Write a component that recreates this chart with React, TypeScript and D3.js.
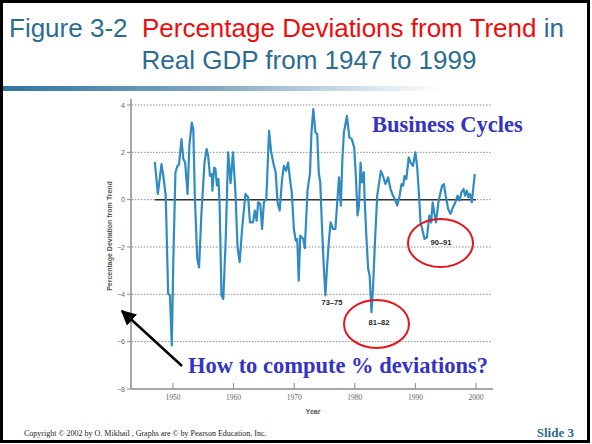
import React from "react";
import * as d3 from "d3";

const years = [
  1947.0, 1947.5, 1948.1, 1948.4, 1948.8, 1949.2, 1949.5, 1949.8, 1950.05, 1950.4, 1950.7, 1951.0, 1951.4, 1951.7,
  1952.0, 1952.4, 1952.7, 1953.1, 1953.35, 1953.6, 1954.0, 1954.3, 1954.7, 1955.2, 1955.55, 1955.8, 1956.1, 1956.4,
  1956.5, 1956.8, 1957.0, 1957.25, 1957.5, 1957.7, 1958.0, 1958.3, 1958.7, 1959.1, 1959.5, 1959.9, 1960.3, 1960.65,
  1961.0, 1961.4, 1961.95, 1962.4, 1962.7, 1963.2, 1963.5, 1963.8, 1964.05, 1964.4, 1964.7, 1965.0, 1965.4, 1965.85,
  1966.2, 1966.6, 1966.95, 1967.25, 1967.6, 1968.0, 1968.3, 1968.65, 1969.0, 1969.3, 1969.6, 1969.95, 1970.25, 1970.5,
  1970.75, 1971.0, 1971.5, 1971.75, 1972.2, 1972.6, 1972.85, 1973.15, 1973.5, 1973.8, 1974.05, 1974.3, 1974.6, 1974.9,
  1975.15, 1975.4, 1975.75, 1976.0, 1976.4, 1976.8, 1977.1, 1977.4, 1977.7, 1977.95, 1978.2, 1978.7, 1979.1, 1979.5,
  1979.9, 1980.2, 1980.45, 1980.7, 1980.95, 1981.2, 1981.5, 1981.6, 1981.9, 1982.2, 1982.45, 1982.75, 1983.0, 1983.3,
  1983.7, 1984.3, 1984.65, 1985.05, 1985.5, 1985.9, 1986.3, 1986.6, 1987.0, 1987.4, 1987.7, 1988.0, 1988.2, 1988.5,
  1988.9, 1989.2, 1989.6, 1990.0, 1990.3, 1990.6, 1990.85, 1991.25, 1991.5, 1991.9, 1992.3, 1992.6, 1992.85, 1993.1,
  1993.4, 1993.8, 1994.15, 1994.4, 1994.7, 1995.0, 1995.4, 1995.8, 1996.2, 1996.6, 1996.95, 1997.3, 1997.6, 1997.95,
  1998.2, 1998.5, 1998.75, 1999.0, 1999.3, 1999.8,
];

const deviations = [
  1.6, 0.24, 1.5, 1.0, 0.17, -3.97, -4.05, -6.16, -2.6, 1.15, 1.4, 1.5, 2.56, 1.72,
  1.57, 0.24, 2.28, 3.26, 2.98, 0.17, -2.5, -2.86, -0.53, 1.57, 2.14, 1.86, 1.0, 1.08,
  0.38, 1.36, 1.3, 0.6, 0.87, -0.25, -4.05, -4.2, -1.66, 2.0, 0.7, 2.0, 0.31, -2.0,
  -2.64, -1.24, 0.24, 0.1, -0.96, -0.96, -0.46, -0.89, -0.11, -0.18, -1.24, -0.11, 0.03, 2.91,
  2.0, 1.5, 1.15, -0.11, -0.46, 0.87, 1.43, 1.22, 1.57, 0.87, 0.31, -1.24, -1.73, -1.66,
  -3.42, -1.52, -1.66, -2.05, 0.4, 1.1, 2.84, 3.83, 2.84, 2.77, 1.15, 0.73, -1.24, -2.92,
  -4.05, -2.92, -1.66, -0.96, -1.24, -1.24, -0.11, 0.94, -0.25, 1.72, 2.84, 3.54, 2.63, 2.56,
  2.2, 0.87, -0.67, -0.25, 1.57, 0.73, 1.15, 0.17, -1.52, -2.92, -3.2, -4.75, -3.77, -1.94,
  0.17, 1.22, 1.0, 0.66, 0.94, 0.45, 0.17, 0.03, -0.25, 0.17, 0.66, 0.59, 1.0, 0.87,
  1.79, 1.57, 1.43, 2.0, 1.36, 0.17, -0.96, -1.38, -1.66, -1.59, -0.67, -0.96, -0.11, -0.53,
  -0.96, -0.11, 0.31, 0.59, 0.66, 0.17, -0.39, -0.6, -0.32, -0.11, 0.17, -0.04, 0.31, 0.45,
  0.17, 0.38, 0.1, 0.24, -0.11, 1.08,
];

const yTicks = [4, 2, 0, -2, -4, -6, -8];
const xTicks = [1950, 1960, 1970, 1980, 1990, 2000];

const recessionLabels = ["73–75", "81–82", "90–91"];
const labelYears = [1976.24, 1984.0, 1994.23];
const labelValues = [-4.32, -5.19, -1.79];
const circled = [false, true, true];
const circleYears = [0, 1983.58, 1994.14];
const circleValues = [0, -5.25, -1.83];

export default function App() {
  const x = d3.scaleLinear().domain([1950, 2000]).range([173, 476]);
  const y = d3.scaleLinear().domain([-8, 4]).range([389, 105]);
  const pts = years.map((yr, i) => [yr, deviations[i]] as [number, number]);
  const line = d3
    .line<[number, number]>()
    .x((d) => x(d[0]))
    .y((d) => y(d[1]))
    .curve(d3.curveLinear);

  const steel = "#2c6c90";
  const axisGray = "#8a8a8a";
  const blueText = "#3434c4";

  return (
    <svg
      width={592}
      height={444}
      style={{ position: "absolute", left: 0, top: 0, background: "#fff" }}
    >
      <defs>
        <linearGradient id="tb" x1="0" x2="1" y1="0" y2="0">
          <stop offset="0" stopColor="#2f75a0" />
          <stop offset="0.35" stopColor="#7fa7c2" />
          <stop offset="0.75" stopColor="#ffffff" />
        </linearGradient>
        <marker id="ah" viewBox="0 0 10 10" refX="9" refY="5" markerWidth="6" markerHeight="6" orient="auto">
          <path d="M0,0 L10,5 L0,10 z" fill="#000" />
        </marker>
      </defs>
      <rect x={0} y={0} width={592} height={444} fill="#fff" />
      {/* title */}
      <text x={9} y={37} fontFamily="Liberation Sans, Arial, sans-serif" fontSize={26} style={{ whiteSpace: "pre" }}>
        <tspan fill={steel}>Figure 3-2  </tspan>
        <tspan fill="#f00c0c">Percentage Deviations from Trend</tspan>
        <tspan fill={steel}> in</tspan>
      </text>
      <text x={309} y={69} textAnchor="middle" fontFamily="Liberation Sans, Arial, sans-serif" fontSize={26} fill={steel}>
        Real GDP from 1947 to 1999
      </text>
      <rect x={3} y={86} width={585} height={5} fill="url(#tb)" />

      {/* gridlines */}
      {yTicks.filter((t) => t > -8).map((t) => (
        <line key={"g" + t} x1={132} x2={491} y1={y(t)} y2={y(t)} stroke="#8f8f8f" strokeWidth={1} strokeDasharray="1.5,1.5" />
      ))}
      {/* zero line */}
      <line x1={x(years[0])} x2={x(2000)} y1={y(0)} y2={y(0)} stroke="#333" strokeWidth={1.5} />

      {/* axes */}
      <line x1={131} x2={131} y1={99} y2={389} stroke={axisGray} strokeWidth={1.5} />
      <line x1={131} x2={493} y1={389} y2={389} stroke={axisGray} strokeWidth={1.5} />
      {yTicks.map((t) => (
        <g key={"yt" + t}>
          <line x1={127} x2={131} y1={y(t)} y2={y(t)} stroke={axisGray} strokeWidth={1} />
          <text x={125} y={y(t) + 2.5} textAnchor="end" fontFamily="Liberation Sans, Arial, sans-serif" fontSize={7} fill="#666">
            {t < 0 ? "−" + Math.abs(t) : t}
          </text>
        </g>
      ))}
      {xTicks.map((t) => (
        <g key={"xt" + t}>
          <line x1={x(t)} x2={x(t)} y1={383} y2={389} stroke={axisGray} strokeWidth={1} />
          <text x={x(t)} y={400} textAnchor="middle" fontFamily="Liberation Serif, Times New Roman, serif" fontSize={7.5} fill="#666">
            {t}
          </text>
        </g>
      ))}
      <text x={313} y={414} textAnchor="middle" fontFamily="Liberation Sans, Arial, sans-serif" fontWeight="bold" fontSize={7} fill="#555">
        Year
      </text>
      <text
        transform="translate(112,236) rotate(-90)"
        textAnchor="middle"
        fontFamily="Liberation Sans, Arial, sans-serif"
        fontWeight="bold"
        fontSize={7}
        fill="#555"
      >
        Percentage Deviation from Trend
      </text>

      {/* data line */}
      <path d={line(pts) || ""} fill="none" stroke="#2f8cc2" strokeWidth={2.2} strokeLinejoin="round" />

      {/* recession labels */}
      {recessionLabels.map((lab, i) => (
        <g key={lab}>
          {circled[i] && (
            <ellipse cx={x(circleYears[i])} cy={y(circleValues[i])} rx={32.5} ry={24} fill="none" stroke="#e8141c" strokeWidth={2} />
          )}
          <text
            x={x(labelYears[i])}
            y={y(labelValues[i]) + 3}
            textAnchor="middle"
            fontFamily="Liberation Sans, Arial, sans-serif"
            fontWeight="bold"
            fontSize={7.5}
            fill="#222"
          >
            {lab}
          </text>
        </g>
      ))}

      {/* annotations */}
      <text x={372} y={132} fontFamily="Liberation Serif, Times New Roman, serif" fontWeight="bold" fontSize={22.5} fill={blueText}>
        Business Cycles
      </text>
      <line x1={182} x2={122} y1={366} y2={311} stroke="#000" strokeWidth={2.5} markerEnd="url(#ah)" />
      <text x={188} y={373} fontFamily="Liberation Serif, Times New Roman, serif" fontWeight="bold" fontSize={22.5} fill={blueText}>
        How to compute % deviations?
      </text>

      {/* footer */}
      <text x={24} y={436} fontFamily="Liberation Serif, Times New Roman, serif" fontSize={8} fill="#222">
        Copyright © 2002 by O. Mikhail , Graphs are © by Pearson Education, Inc.
      </text>
      <text x={574} y={437} textAnchor="end" fontFamily="Liberation Serif, Times New Roman, serif" fontWeight="bold" fontSize={13} fill={steel}>
        Slide 3
      </text>

      {/* frame */}
      <rect x={1.5} y={1.5} width={587} height={440} fill="none" stroke="#000" strokeWidth={3} />
    </svg>
  );
}
